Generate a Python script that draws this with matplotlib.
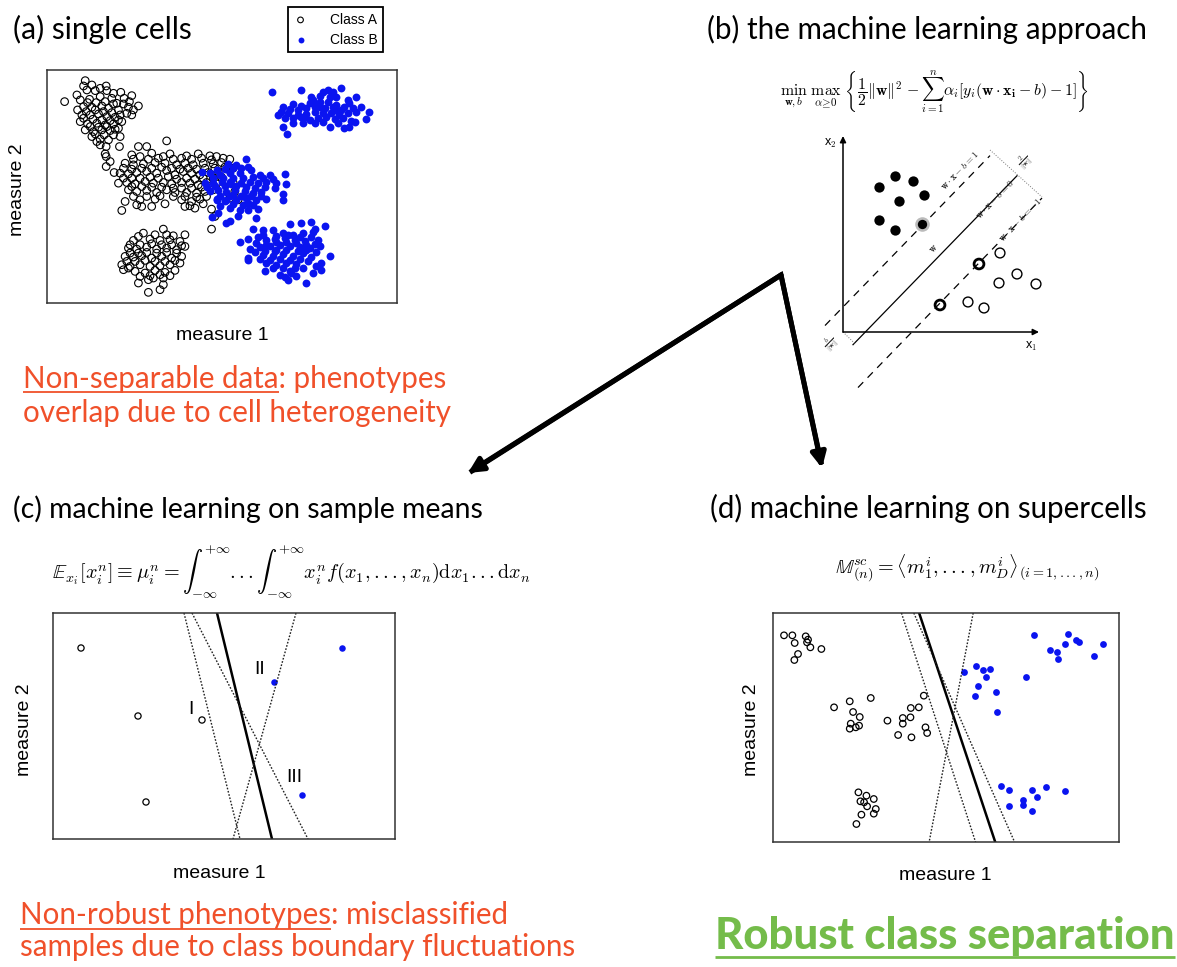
import matplotlib
matplotlib.use("Agg")
import matplotlib.pyplot as plt
import numpy as np

W, H = 1177, 967

# ---- (a) single cells (zoomed pixel units) ----
class_a_cells = [
    # upper-left cluster
    (193, 305), (255, 242), (260, 270), (285, 272), (318, 258), (320, 272), (362, 277), (395, 287),
    (388, 305), (415, 318), (240, 300), (268, 298), (300, 290), (335, 295), (350, 310), (250, 320),
    (275, 322), (305, 318), (325, 325), (355, 330), (385, 322), (245, 345), (270, 345), (295, 342),
    (320, 350), (345, 352), (240, 365), (262, 372), (290, 370), (315, 375), (340, 372), (365, 365),
    (395, 345), (255, 390), (280, 395), (305, 390), (330, 392), (355, 385), (275, 410), (300, 418),
    (325, 420), (300, 435), (360, 410), (358, 440), (315, 462), (318, 500), (342, 518),
    (230, 285), (250, 258), (275, 255), (300, 265), (340, 280), (372, 295), (262, 308), (288, 308),
    (315, 305), (340, 312), (370, 312), (400, 330), (232, 330), (258, 335), (285, 330), (310, 335),
    (335, 338), (360, 345), (380, 340), (250, 355), (278, 358), (305, 360), (330, 362), (355, 360),
    (270, 380), (295, 382), (320, 380), (345, 388), (285, 402), (312, 405), (340, 405), (290, 425),
    (318, 440),
    # middle elongated cluster
    (415, 440), (440, 440), (500, 423), (395, 465), (420, 470), (455, 460), (490, 470), (510, 462),
    (560, 468), (595, 462), (630, 468), (650, 470), (690, 478), (375, 490), (400, 495), (430, 492),
    (465, 488), (495, 490), (530, 495), (555, 490), (580, 495), (610, 490), (640, 492), (665, 488),
    (360, 520), (385, 522), (410, 518), (440, 515), (470, 520), (500, 512), (525, 525), (550, 515),
    (575, 520), (600, 525), (625, 518), (655, 515), (690, 512), (355, 550), (380, 548), (405, 552),
    (435, 545), (460, 550), (490, 548), (515, 552), (545, 548), (570, 550), (595, 555), (620, 548),
    (650, 552), (700, 548), (385, 570), (410, 575), (440, 572), (470, 578), (500, 570), (560, 578),
    (590, 580), (615, 575), (640, 570), (705, 575), (375, 605), (420, 600), (465, 598), (495, 612),
    (545, 600), (575, 605), (600, 598), (715, 600), (365, 632), (425, 620), (455, 620), (525, 578),
    (555, 620), (570, 618), (635, 628), (645, 650), (635, 688), (318, 470), (330, 485),
    (400, 478), (445, 478), (475, 475), (520, 478), (545, 475), (575, 478), (605, 475), (635, 480),
    (670, 475), (370, 505), (395, 508), (425, 505), (455, 505), (485, 502), (515, 505), (540, 508),
    (565, 505), (590, 508), (615, 505), (645, 505), (675, 502), (700, 505), (370, 535), (395, 535),
    (420, 535), (450, 532), (475, 535), (505, 530), (530, 538), (560, 535), (585, 538), (610, 535),
    (640, 535), (665, 532), (395, 560), (425, 560), (455, 562), (485, 562), (520, 565), (545, 565),
    (575, 565), (605, 562), (630, 560), (400, 590), (440, 590), (480, 588), (520, 590), (555, 590),
    (590, 592), (620, 590), (690, 595), (410, 615), (585, 625), (610, 612),
    # lower cluster
    (490, 688), (430, 700), (520, 708), (555, 705), (400, 722), (450, 718), (480, 722), (510, 720),
    (540, 725), (385, 745), (410, 748), (440, 742), (470, 748), (500, 745), (530, 750), (555, 740),
    (375, 770), (400, 772), (425, 768), (455, 775), (485, 770), (515, 775), (545, 770), (365, 795),
    (390, 800), (420, 795), (450, 800), (480, 798), (510, 795), (540, 790), (370, 810), (405, 815),
    (435, 820), (465, 812), (495, 818), (525, 812), (415, 850), (445, 840), (460, 835), (490, 835),
    (490, 855), (445, 878), (480, 870), (385, 805),
    (415, 710), (465, 705), (500, 705), (390, 735), (420, 735), (455, 732), (485, 735), (515, 735),
    (545, 738), (390, 760), (415, 760), (440, 758), (470, 760), (500, 758), (530, 760), (380, 785),
    (405, 785), (435, 782), (465, 785), (495, 785), (525, 782), (420, 830), (450, 828), (480, 825),
    (510, 828),
]
class_b_cells = [
    # upper-right cluster
    (818, 275), (905, 270), (970, 275), (1000, 275), (1025, 265), (935, 290), (960, 288), (990, 292),
    (1070, 290), (850, 322), (880, 312), (905, 318), (930, 310), (955, 312), (985, 305), (1010, 315),
    (1035, 320), (1060, 325), (1110, 335), (835, 345), (865, 340), (895, 345), (920, 342), (945, 335),
    (970, 340), (995, 338), (1020, 345), (1045, 340), (1070, 335), (855, 355), (880, 355), (905, 352),
    (930, 360), (955, 355), (980, 352), (1005, 358), (1030, 355), (1055, 362), (1100, 358), (850, 380),
    (945, 370), (990, 382), (1035, 385), (1050, 380), (1068, 365), (862, 402), (915, 350), (1005, 330),
    (960, 322),
    (845, 335), (870, 328), (895, 330), (920, 325), (945, 322), (975, 325), (1000, 320), (1025, 330),
    (1050, 310), (1085, 322), (880, 368), (910, 370), (970, 365), (1015, 370), (940, 300), (1045, 300),
    (985, 270), (1010, 290), (960, 305),
    # middle cluster (overlapping class A)
    (740, 478), (685, 492), (710, 495), (745, 500), (605, 515), (630, 520), (660, 525), (690, 518),
    (720, 520), (780, 525), (810, 525), (855, 522), (615, 550), (640, 548), (665, 545), (695, 552),
    (725, 548), (750, 545), (775, 550), (800, 545), (830, 548), (860, 552), (630, 575), (655, 572),
    (680, 578), (705, 570), (735, 575), (760, 580), (785, 578), (850, 582), (650, 598), (680, 602),
    (710, 600), (740, 595), (770, 600), (800, 598), (850, 600), (660, 620), (690, 625), (720, 630),
    (745, 632), (775, 628), (655, 640), (715, 648), (770, 655), (635, 652), (690, 665), (680, 670),
    (745, 610), (700, 585), (690, 545), (650, 600),
    (650, 510), (675, 508), (700, 505), (725, 505), (755, 510), (640, 535), (670, 535), (700, 535),
    (730, 535), (760, 530), (790, 535), (820, 538), (620, 562), (645, 560), (675, 560), (710, 560),
    (740, 562), (765, 565), (795, 562), (825, 565), (660, 588), (690, 590), (725, 588), (755, 590),
    (785, 590), (700, 612), (730, 615), (760, 615), (675, 605),
    # lower-right cluster
    (870, 672), (905, 670), (935, 668), (975, 678), (945, 688), (760, 688), (790, 690), (820, 692),
    (850, 700), (880, 705), (910, 700), (940, 698), (720, 728), (745, 718), (775, 712), (800, 722),
    (825, 718), (855, 715), (885, 720), (915, 725), (955, 722), (750, 748), (780, 742), (810, 738),
    (840, 735), (870, 738), (900, 742), (930, 745), (960, 740), (745, 775), (790, 765), (820, 770),
    (850, 762), (880, 768), (910, 760), (935, 772), (990, 770), (800, 790), (830, 795), (860, 790),
    (890, 792), (965, 790), (795, 815), (840, 825), (870, 815), (910, 805), (940, 820), (965, 810),
    (920, 850), (875, 820), (865, 840), (745, 780), (830, 752), (860, 750),
    (790, 705), (830, 708), (865, 705), (900, 712), (935, 712), (770, 730), (800, 735), (830, 728),
    (860, 728), (890, 730), (920, 735), (945, 732), (765, 758), (795, 755), (825, 755), (895, 755),
    (920, 752), (950, 758), (780, 778), (810, 780), (840, 778), (870, 780), (900, 778), (925, 785),
    (820, 805), (850, 805), (885, 805), (855, 832), (890, 830), (950, 800),
]

# ---- (c) sample means ----
means_a = [(81, 648), (138, 716), (202, 720), (146, 802)]
means_b = [(342, 648), (274, 682), (302, 795)]
means_tags = ["I", "II", "III"]
means_tag_xy = [(191, 710), (260, 669), (294, 777)]
means_bound = (217, 272)                               # x at top / bottom edge
means_alt_bounds = [(184, 240), (192, 308), (296, 233)]

# ---- (d) supercells ----
super_a = [
    (193, 107), (218, 107), (258, 110), (265, 120), (225, 130), (262, 128), (272, 143), (305, 148),
    (235, 163), (224, 181),
    (390, 305), (453, 295), (343, 323), (400, 337), (420, 352), (393, 372), (418, 378), (390, 387),
    (408, 383), (503, 363), (549, 355), (572, 353), (573, 325), (597, 323), (612, 288), (549, 372),
    (535, 406), (575, 413), (617, 383), (622, 400),
    (416, 578), (440, 588), (462, 598), (422, 605), (433, 608), (442, 620), (468, 628), (462, 642),
    (425, 645), (410, 673),
]
super_b = [
    (942, 107), (1043, 103), (1067, 120), (1076, 128), (1035, 133), (1150, 133), (990, 152),
    (1010, 157), (1013, 177), (1122, 170),
    (732, 218), (767, 200), (790, 210), (811, 208), (797, 231), (917, 233), (774, 259), (765, 290),
    (828, 277), (830, 337),
    (844, 558), (868, 570), (937, 572), (978, 563), (1035, 573), (908, 600), (952, 592), (868, 618),
    (908, 617), (935, 635),
]
super_bound = (598, 826)
super_alt_bounds = [(545, 767), (582, 884), (760, 628)]

# ---- (b) SVM sketch (x1, x2) ----
svm_pos = [(36, 145), (52, 156), (70, 151), (81, 137), (56, 131), (36, 112), (52, 102)]
svm_pos_sv = [(79, 108)]
svm_neg = [(157, 79), (174, 58), (156, 49), (193, 48), (125, 30), (141, 24)]
svm_neg_sv = [(136, 68), (97, 27)]
svm_slope = 1.03
svm_offsets = [25, -23, -71]          # w.x-b = 1, 0, -1
svm_x_range = [(-18, 147), (10, 174), (15, 199)]

RED = "#F0502A"
GREEN = "#74BC4A"
BLUE = "#0A14F0"
TITLE_FONT = ["Lato", "DejaVu Sans"]
LABEL_FONT = ["Liberation Sans", "DejaVu Sans"]
plt.rcParams["mathtext.fontset"] = "cm"

fig = plt.figure(figsize=(W / 100, H / 100), dpi=100)
renderer = fig.canvas.get_renderer()

# overlay in pixel units for the free text and arrows
over = fig.add_axes([0, 0, 1, 1])
over.set_xlim(0, W)
over.set_ylim(H, 0)
over.axis("off")


def box(x0, y0, x1, y1):
    return fig.add_axes([x0 / W, 1 - y1 / H, (x1 - x0) / W, (y1 - y0) / H])


def frame(ax):
    ax.set_xticks([])
    ax.set_yticks([])
    for s in ax.spines.values():
        s.set_linewidth(1.1)
        s.set_color("#333333")


def fitted(x, y, s, width, **kw):
    t = over.text(x, y, s, **kw)
    w = t.get_window_extent(renderer).width
    t.set_fontsize(t.get_fontsize() * width / w)
    return t


def underline(x, y, s, ref, color, lw):
    probe = over.text(x, 0, s, fontproperties=ref.get_fontproperties())
    w = probe.get_window_extent(renderer).width
    probe.remove()
    over.plot([x, x + w], [y, y], color=color, lw=lw, solid_capstyle="butt")


# titles
fitted(13, 39, "(a) single cells", 179, family=TITLE_FONT, fontsize=20)
fitted(707, 39, "(b) the machine learning approach", 441, family=TITLE_FONT, fontsize=20)
fitted(13, 518, "(c) machine learning on sample means", 471, family=TITLE_FONT, fontsize=20)
fitted(710, 518, "(d) machine learning on supercells", 438, family=TITLE_FONT, fontsize=20)

# equations
fitted(780, 92, r"$\min_{\mathbf{w},b}\ \max_{\alpha\geq 0}\ \left\{\dfrac{1}{2}\Vert\mathbf{w}\Vert^2"
       r" - \sum_{i=1}^{n}\alpha_i[y_i(\mathbf{w}\cdot\mathbf{x_i} - b) - 1]\right\}$",
       313, va="center", fontsize=12)
eq_c = fitted(52, 572, r"$\mathbb{E}_{x_i}[x_i^n] \equiv \mu_i^n = \int_{-\infty}^{+\infty} ... "
              r"\int_{-\infty}^{+\infty} x_i^n f(x_1,...,x_n)\mathrm{d}x_1...\mathrm{d}x_n$",
              480, va="center", fontsize=12)
over.text(967, 568, r"$\mathbb{M}^{sc}_{(n)} = \langle m_1^i, ..., m_D^i\rangle_{(i=1,...,n)}$",
          ha="center", va="center", fontsize=eq_c.get_fontsize())

# red / green statements
t1 = fitted(23, 422, "overlap due to cell heterogeneity", 429, family=TITLE_FONT, fontsize=20, color=RED)
over.text(23, 388, "Non-separable data: phenotypes", fontproperties=t1.get_fontproperties(), color=RED)
underline(23, 392, "Non-separable data", t1, RED, 1.3)

t2 = fitted(20, 956, "samples due to class boundary fluctuations", 557, family=TITLE_FONT,
            fontsize=20, color=RED)
over.text(20, 924, "Non-robust phenotypes: misclassified", fontproperties=t2.get_fontproperties(),
          color=RED)
underline(20, 929, "Non-robust phenotypes", t2, RED, 1.3)

t3 = fitted(715, 949, "Robust class separation", 458, family=TITLE_FONT, fontsize=22,
            weight=900, color=GREEN)
underline(715, 957, "Robust class separation", t3, GREEN, 2.0)

# axis captions
for x, y in [(18, 190), (25, 730), (752, 730)]:
    over.text(x, y, "measure 2", rotation=90, ha="center", va="center", fontsize=14, family=LABEL_FONT)
for x, y in [(222, 336), (219, 873), (945, 875)]:
    over.text(x, y, "measure 1", ha="center", va="center", fontsize=14, family=LABEL_FONT)

# big arrows from (b) to (c) and (d)
over.plot([472, 781, 821], [471, 275, 462], color="black", lw=3.6, solid_joinstyle="miter")
for tip in [(468, 473), (822, 468)]:
    over.annotate("", xy=tip, xytext=(781, 275),
                  arrowprops=dict(arrowstyle="-|>", lw=3.6, color="black", mutation_scale=22,
                                  shrinkA=0, shrinkB=0))

# (a) scatter
ax_a = box(47, 70, 397, 303)
xa, ya = zip(*class_a_cells)
xb, yb = zip(*class_b_cells)
ax_a.scatter(xa, ya, s=30, facecolors="none", edgecolors="black", linewidths=0.8, label="Class A")
ax_a.scatter(xb, yb, s=32, color=BLUE, linewidths=0, label="Class B")
ax_a.set_xlim(140, 1193)
ax_a.set_ylim(910, 210)
frame(ax_a)
leg = ax_a.legend(loc="upper left", bbox_to_anchor=(288 / W, 1 - 7 / H), bbox_transform=fig.transFigure,
                  fancybox=False, edgecolor="black", framealpha=1, prop={"family": LABEL_FONT, "size": 10},
                  handletextpad=1.6, borderpad=0.4, labelspacing=0.45, markerscale=0.75, handlelength=1.0,
                  borderaxespad=0)
leg.get_frame().set_linewidth(1.3)

# (c) sample means
ax_c = box(53, 613, 395, 839)
xa, ya = zip(*means_a)
xb, yb = zip(*means_b)
ax_c.scatter(xa, ya, s=20, facecolors="none", edgecolors="black", linewidths=0.9)
ax_c.scatter(xb, yb, s=22, color=BLUE, linewidths=0)
ax_c.plot(means_bound, (613, 839), color="black", lw=1.8)
for top, bottom in means_alt_bounds:
    ax_c.plot((top, bottom), (613, 839), color="#222222", lw=1.0, ls=(0, (1.2, 1.2)))
for tag, (x, y) in zip(means_tags, means_tag_xy):
    ax_c.text(x, y, tag, ha="center", va="center", fontsize=14, family=LABEL_FONT)
ax_c.set_xlim(53, 395)
ax_c.set_ylim(839, 613)
frame(ax_c)

# (d) supercells
ax_d = box(773, 613, 1119, 842)
xa, ya = zip(*super_a)
xb, yb = zip(*super_b)
ax_d.scatter(xa, ya, s=22, facecolors="none", edgecolors="black", linewidths=0.9)
ax_d.scatter(xb, yb, s=24, color=BLUE, linewidths=0)
ax_d.plot(super_bound, (40, 727), color="black", lw=1.8)
for top, bottom in super_alt_bounds:
    ax_d.plot((top, bottom), (40, 727), color="#222222", lw=1.0, ls=(0, (1.2, 1.2)))
ax_d.set_xlim(160, 1197)
ax_d.set_ylim(727, 40)
frame(ax_d)

# (b) SVM sketch
ax_b = box(800, 120, 1075, 395)
ax_b.set_xlim(-43, 232)
ax_b.set_ylim(-63, 212)
ax_b.axis("off")
ax_b.annotate("", xy=(0, 196), xytext=(0, 0),
              arrowprops=dict(arrowstyle="-|>", lw=1.1, color="black", mutation_scale=9, shrinkA=0, shrinkB=0))
ax_b.annotate("", xy=(196, 0), xytext=(0, 0),
              arrowprops=dict(arrowstyle="-|>", lw=1.1, color="black", mutation_scale=9, shrinkA=0, shrinkB=0))
ax_b.text(-13, 189, r"x$_2$", ha="center", va="center", fontsize=9, family=LABEL_FONT)
ax_b.text(188, -14, r"x$_1$", ha="center", va="center", fontsize=9, family=LABEL_FONT)
for c, (x0, x1), ls in zip(svm_offsets, svm_x_range, [(0, (6, 5)), "-", (0, (6, 5))]):
    xs = np.array([x0, x1])
    ax_b.plot(xs, svm_slope * xs + c, color="black", lw=0.9, ls=ls)
ax_b.plot([147, 199], [182, 135], color="#777777", lw=0.7, ls=":")
ax_b.plot([0, 11.5], [0, -11.2], color="#777777", lw=0.7, ls=":")
px, py = zip(*svm_pos)
ax_b.scatter(px, py, s=55, color="black", linewidths=0)
px, py = zip(*svm_pos_sv)
ax_b.scatter(px, py, s=110, color="#bbbbbb", linewidths=0)
ax_b.scatter(px, py, s=45, color="black", linewidths=0)
nx, ny = zip(*svm_neg)
ax_b.scatter(nx, ny, s=50, facecolors="none", edgecolors="black", linewidths=1.0)
nx, ny = zip(*svm_neg_sv)
ax_b.scatter(nx, ny, s=50, facecolors="none", edgecolors="black", linewidths=2.0)
for (x, y), s in zip([(117, 162), (152, 133), (178, 112)],
                     [r"$\mathbf{w}\cdot\mathbf{x} - b = 1$", r"$\mathbf{w}\cdot\mathbf{x} - b = 0$",
                      r"$\mathbf{w}\cdot\mathbf{x} - b = -1$"]):
    ax_b.text(x, y, s, rotation=46, ha="center", va="center", fontsize=7, color="#222222")
ax_b.text(182, 170, r"$\frac{2}{\Vert\mathbf{w}\Vert}$", rotation=46, ha="center", va="center",
          fontsize=7, color="#222222")
ax_b.text(-12, -12, r"$\frac{b}{\Vert\mathbf{w}\Vert}$", rotation=46, ha="center", va="center",
          fontsize=7, color="#222222")
ax_b.text(90, 84, r"$\mathbf{w}$", rotation=46, ha="center", va="center", fontsize=7, color="#222222")

fig.savefig("out.png", dpi=100)
